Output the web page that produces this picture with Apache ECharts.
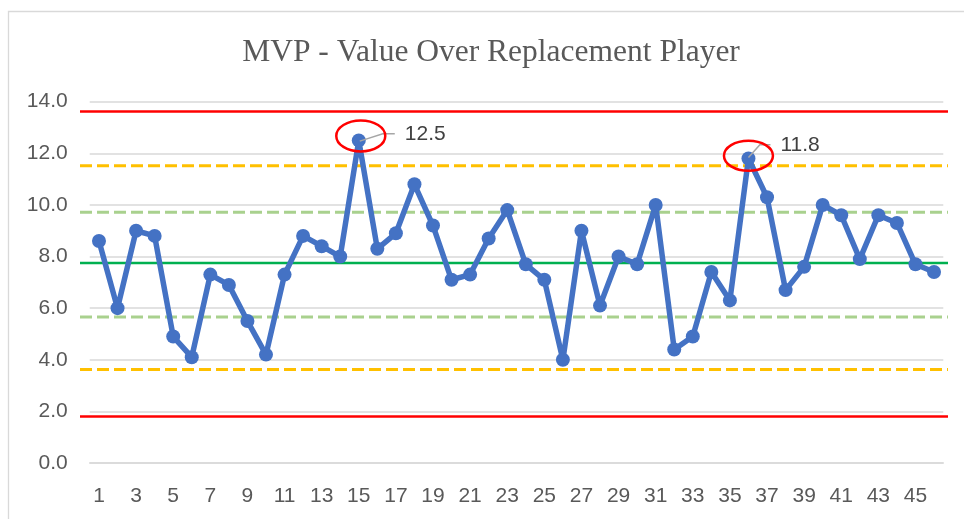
<!DOCTYPE html>
<html>
<head>
<meta charset="utf-8">
<script src="https://cdn.jsdelivr.net/npm/echarts@6/dist/echarts.min.js"></script>
<style>
  html, body { margin: 0; padding: 0; background: #ffffff; }
  #chart { width: 964px; height: 519px; }
</style>
</head>
<body>
<div id="chart"></div>
<script>
// ---------- data ----------
const titleText = 'MVP - Value Over Replacement Player';
const categories = ['1','2','3','4','5','6','7','8','9','10','11','12','13','14','15','16','17','18','19','20','21','22','23','24','25','26','27','28','29','30','31','32','33','34','35','36','37','38','39','40','41','42','43','44','45','46'];
const vorpValues = [8.6, 6.0, 9.0, 8.8, 4.9, 4.1, 7.3, 6.9, 5.5, 4.2,
                    7.3, 8.8, 8.4, 8.0, 12.5, 8.3, 8.9, 10.8, 9.2, 7.1,
                    7.3, 8.7, 9.8, 7.7, 7.1, 4.0, 9.0, 6.1, 8.0, 7.7,
                    10.0, 4.4, 4.9, 7.4, 6.3, 11.8, 10.3, 6.7, 7.6, 10.0,
                    9.6, 7.9, 9.6, 9.3, 7.7, 7.4];
const yTicks = [0, 2, 4, 6, 8, 10, 12, 14];
const limitNames = ['UCL', '+2 sigma', '+1 sigma', 'Mean', '-1 sigma', '-2 sigma', 'LCL'];
const limitValues = [13.62, 11.52, 9.72, 7.75, 5.66, 3.62, 1.80];
const annotatedCategories = ['15', '36'];

// ---------- styles (kept apart from data) ----------
const limitStyles = [
  { color: '#FF0000', width: 2.5, type: 'solid' },
  { color: '#FFC000', width: 3, type: [12, 5] },
  { color: '#A9D18E', width: 3, type: [12, 5] },
  { color: '#00B050', width: 2.5, type: 'solid' },
  { color: '#A9D18E', width: 3, type: [12, 5] },
  { color: '#FFC000', width: 3, type: [12, 5] },
  { color: '#FF0000', width: 2.5, type: 'solid' }
];
// leader/ellipse layout per annotation (pixel offsets from the point)
const annotationLayout = [
  { ex: 2, ey: -4.5, rx: 24.5, ry: 15.5, leader: [[1, 0.7], [24, -6.6], [36, -6.6]], tx: 46, ty: -6 },
  { ex: 0, ey: -2.7, rx: 24.5, ry: 15, leader: [[0, -1], [11.4, -13.7], [22, -13.7]], tx: 32, ty: -13.4 }
];

const textColor = '#595959';
const gridColor = '#D9D9D9';

const chart = echarts.init(document.getElementById('chart'), null, { renderer: 'canvas' });

const annotationData = annotatedCategories.map(c => {
  const i = categories.indexOf(c);
  return [i, vorpValues[i]];
});

const limitSeries = limitValues.map((v, k) => ({
  name: limitNames[k],
  type: 'line',
  xAxisIndex: 1,
  yAxisIndex: 1,
  data: [[0, v], [1, v]],
  symbol: 'none',
  silent: true,
  z: 2,
  lineStyle: limitStyles[k]
}));

const option = {
  backgroundColor: '#ffffff',
  animation: false,
  title: {
    text: titleText,
    left: 491,
    top: 37,
    padding: 0,
    textAlign: 'center',
    textStyle: {
      fontFamily: 'Liberation Serif',
      fontSize: 31.5,
      fontWeight: 'normal',
      color: textColor
    }
  },
  graphic: [{
    type: 'rect',
    silent: true,
    shape: { x: 8.5, y: 11.5, width: 1000, height: 600 },
    style: { fill: 'none', stroke: gridColor, lineWidth: 1.3 }
  }],
  grid: [
    { left: 89.7, right: 20.7, top: 101.7, bottom: 56 },
    { left: 80, right: 16, top: 101.7, bottom: 56 }
  ],
  xAxis: [
    {
      type: 'category',
      gridIndex: 0,
      data: categories,
      boundaryGap: true,
      axisLine: { show: true, lineStyle: { color: gridColor, width: 1.5 } },
      axisTick: { show: false },
      axisLabel: {
        interval: 1,
        margin: 23,
        color: textColor,
        fontFamily: 'Liberation Sans',
        fontSize: 21
      },
      splitLine: { show: false }
    },
    {
      type: 'value',
      gridIndex: 1,
      min: 0,
      max: 1,
      show: false
    }
  ],
  yAxis: [
    {
      type: 'value',
      gridIndex: 0,
      min: yTicks[0],
      max: yTicks[yTicks.length - 1],
      interval: yTicks[1] - yTicks[0],
      axisLine: { show: false },
      axisTick: { show: false },
      axisLabel: {
        margin: 22,
        color: textColor,
        fontFamily: 'Liberation Sans',
        fontSize: 21,
        formatter: v => v.toFixed(1)
      },
      splitLine: { show: true, lineStyle: { color: gridColor, width: 1.5 } }
    },
    {
      type: 'value',
      gridIndex: 1,
      min: yTicks[0],
      max: yTicks[yTicks.length - 1],
      show: false
    }
  ],
  series: [
    ...limitSeries,
    {
      name: 'VORP',
      type: 'line',
      xAxisIndex: 0,
      yAxisIndex: 0,
      data: vorpValues,
      symbol: 'circle',
      symbolSize: 14,
      showAllSymbol: true,
      z: 5,
      lineStyle: { color: '#4472C4', width: 5.5, join: 'round', cap: 'round' },
      itemStyle: { color: '#4472C4' }
    },
    {
      name: 'Annotations',
      type: 'custom',
      xAxisIndex: 0,
      yAxisIndex: 0,
      clip: false,
      z: 10,
      silent: true,
      data: annotationData,
      renderItem: function (params, api) {
        const p = api.coord([api.value(0), api.value(1)]);
        const L = annotationLayout[params.dataIndex];
        return {
          type: 'group',
          children: [
            {
              type: 'polyline',
              shape: { points: L.leader.map(o => [p[0] + o[0], p[1] + o[1]]) },
              style: { stroke: '#A6A6A6', lineWidth: 1.5, fill: null }
            },
            {
              type: 'ellipse',
              shape: { cx: p[0] + L.ex, cy: p[1] + L.ey, rx: L.rx, ry: L.ry },
              style: { stroke: '#FF0000', lineWidth: 2.5, fill: null }
            },
            {
              type: 'text',
              x: p[0] + L.tx,
              y: p[1] + L.ty,
              style: {
                text: api.value(1).toFixed(1),
                fill: '#404040',
                font: '21px "Liberation Sans"',
                textAlign: 'left',
                textVerticalAlign: 'middle'
              }
            }
          ]
        };
      }
    }
  ]
};

chart.setOption(option);
</script>
</body>
</html>
